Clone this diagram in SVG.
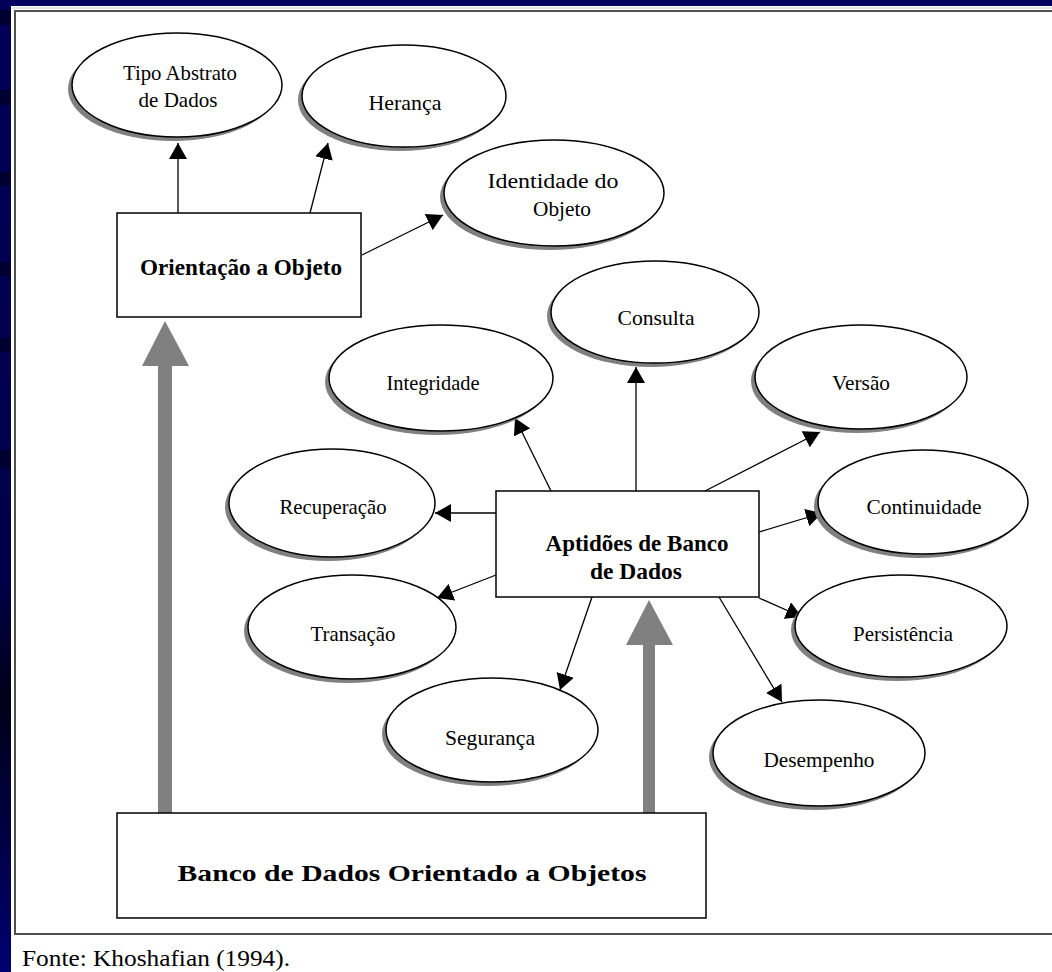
<svg xmlns="http://www.w3.org/2000/svg" width="1052" height="972" viewBox="0 0 1052 972">
  <style>
    .bubble { fill: #ffffff; stroke: #000000; stroke-width: 1.5; }
    .shade { fill: #808080; }
    .box { fill: #ffffff; stroke: #000000; stroke-width: 1.5; }
    .lbl { font-family: "Liberation Serif", "Times New Roman", serif; font-size: 21px; fill: #000000; text-anchor: middle; }
    .head { font-family: "Liberation Serif", "Times New Roman", serif; font-size: 23px; font-weight: bold; fill: #000000; text-anchor: middle; }
    .link { stroke: #000000; stroke-width: 1.3; fill: none; marker-end: url(#tip); }
    .big { fill: #808080; }
  </style>
  <defs>
    <marker id="tip" viewBox="0 0 16 18" refX="16" refY="9" markerWidth="16" markerHeight="18" markerUnits="userSpaceOnUse" orient="auto">
      <path d="M0,0 L16,9 L0,18 z" fill="#000000"/>
    </marker>
    <linearGradient id="side" x1="0" y1="0" x2="0" y2="1">
      <stop offset="0" stop-color="#000058"/>
      <stop offset="0.6" stop-color="#000048"/>
      <stop offset="0.72" stop-color="#000018"/>
      <stop offset="1" stop-color="#000070"/>
    </linearGradient>
  </defs>

  <!-- page -->
  <rect x="0" y="0" width="1052" height="972" fill="#ffffff"/>
  <rect x="0" y="0" width="1052" height="6" fill="#000060"/>
  <rect x="0" y="0" width="11" height="972" fill="url(#side)"/>
  <g fill="#000030">
    <rect x="0" y="10" width="11" height="15"/>
    <rect x="0" y="90" width="11" height="15"/>
    <rect x="0" y="172" width="11" height="14"/>
    <rect x="0" y="262" width="11" height="14"/>
    <rect x="0" y="338" width="11" height="14"/>
    <rect x="0" y="450" width="11" height="18"/>
  </g>

  <!-- frame -->
  <line x1="12" y1="8" x2="1052" y2="8" stroke="#c8c8c8" stroke-width="1"/>
  <path d="M1052,11 H15 V934 H1052" fill="none" stroke="#505050" stroke-width="2"/>

  <!-- connectors -->
  <g id="connectors">
    <line class="link" x1="178" y1="213" x2="178" y2="143"/>
    <line class="link" x1="310" y1="213" x2="328" y2="143"/>
    <line class="link" x1="362" y1="255" x2="443" y2="215"/>
    <line class="link" x1="551" y1="491" x2="515" y2="418"/>
    <line class="link" x1="636" y1="491" x2="636" y2="367"/>
    <line class="link" x1="705" y1="491" x2="820" y2="432"/>
    <line class="link" x1="496" y1="513" x2="435" y2="513"/>
    <line class="link" x1="759" y1="532" x2="822" y2="513"/>
    <line class="link" x1="496" y1="575" x2="437" y2="598"/>
    <line class="link" x1="759" y1="598" x2="802" y2="617"/>
    <line class="link" x1="592" y1="597" x2="560" y2="690"/>
    <line class="link" x1="719" y1="597" x2="782" y2="702"/>
    <polygon class="big" points="158,813 158,366 142,366 165,321 189,366 172,366 172,813"/>
    <polygon class="big" points="643,813 643,645 626,645 649,600 673,645 655,645 655,813"/>
  </g>

  <!-- nodes -->
  <g id="tipo-abstrato">
    <ellipse class="shade" cx="173" cy="89" rx="105" ry="52"/>
    <ellipse class="bubble" cx="177" cy="85" rx="105" ry="52"/>
    <text class="lbl" x="180" y="80" textLength="114" lengthAdjust="spacingAndGlyphs">Tipo Abstrato</text>
    <text class="lbl" x="178" y="107" textLength="79" lengthAdjust="spacingAndGlyphs">de Dados</text>
  </g>
  <g id="heranca">
    <ellipse class="shade" cx="400" cy="100" rx="102" ry="51"/>
    <ellipse class="bubble" cx="404" cy="96" rx="102" ry="51"/>
    <text class="lbl" x="405" y="110" textLength="73" lengthAdjust="spacingAndGlyphs">Herança</text>
  </g>
  <g id="identidade">
    <ellipse class="shade" cx="550" cy="197" rx="110" ry="53"/>
    <ellipse class="bubble" cx="554" cy="193" rx="110" ry="53"/>
    <text class="lbl" x="553" y="188" textLength="131" lengthAdjust="spacingAndGlyphs">Identidade do</text>
    <text class="lbl" x="562" y="216" textLength="58" lengthAdjust="spacingAndGlyphs">Objeto</text>
  </g>
  <g id="orientacao">
    <rect class="box" x="117" y="213" width="244" height="104"/>
    <text class="head" x="241" y="275" textLength="202" lengthAdjust="spacingAndGlyphs">Orientação a Objeto</text>
  </g>
  <g id="consulta">
    <ellipse class="shade" cx="651" cy="316" rx="104" ry="51"/>
    <ellipse class="bubble" cx="655" cy="312" rx="104" ry="51"/>
    <text class="lbl" x="656" y="325" textLength="77" lengthAdjust="spacingAndGlyphs">Consulta</text>
  </g>
  <g id="integridade">
    <ellipse class="shade" cx="437" cy="382" rx="112" ry="53"/>
    <ellipse class="bubble" cx="441" cy="378" rx="112" ry="53"/>
    <text class="lbl" x="433" y="390" textLength="93" lengthAdjust="spacingAndGlyphs">Integridade</text>
  </g>
  <g id="versao">
    <ellipse class="shade" cx="857" cy="381" rx="106" ry="52"/>
    <ellipse class="bubble" cx="861" cy="377" rx="106" ry="52"/>
    <text class="lbl" x="861" y="390" textLength="58" lengthAdjust="spacingAndGlyphs">Versão</text>
  </g>
  <g id="recuperacao">
    <ellipse class="shade" cx="328" cy="507" rx="103" ry="54"/>
    <ellipse class="bubble" cx="332" cy="503" rx="103" ry="54"/>
    <text class="lbl" x="333" y="514" textLength="107" lengthAdjust="spacingAndGlyphs">Recuperação</text>
  </g>
  <g id="continuidade">
    <ellipse class="shade" cx="919" cy="506" rx="105" ry="52"/>
    <ellipse class="bubble" cx="923" cy="502" rx="105" ry="52"/>
    <text class="lbl" x="924" y="514" textLength="115" lengthAdjust="spacingAndGlyphs">Continuidade</text>
  </g>
  <g id="aptidoes">
    <rect class="box" x="496" y="491" width="263" height="106"/>
    <text class="head" x="637" y="551" textLength="183" lengthAdjust="spacingAndGlyphs">Aptidões de Banco</text>
    <text class="head" x="636" y="579" textLength="92" lengthAdjust="spacingAndGlyphs">de Dados</text>
  </g>
  <g id="transacao">
    <ellipse class="shade" cx="348" cy="631" rx="104" ry="52"/>
    <ellipse class="bubble" cx="352" cy="627" rx="104" ry="52"/>
    <text class="lbl" x="353" y="641" textLength="85" lengthAdjust="spacingAndGlyphs">Transação</text>
  </g>
  <g id="persistencia">
    <ellipse class="shade" cx="897" cy="630" rx="106" ry="51"/>
    <ellipse class="bubble" cx="901" cy="626" rx="106" ry="51"/>
    <text class="lbl" x="903" y="641" textLength="100" lengthAdjust="spacingAndGlyphs">Persistência</text>
  </g>
  <g id="seguranca">
    <ellipse class="shade" cx="488" cy="734" rx="106" ry="52"/>
    <ellipse class="bubble" cx="492" cy="730" rx="106" ry="52"/>
    <text class="lbl" x="490" y="745" textLength="90" lengthAdjust="spacingAndGlyphs">Segurança</text>
  </g>
  <g id="desempenho">
    <ellipse class="shade" cx="815" cy="757" rx="106" ry="53"/>
    <ellipse class="bubble" cx="819" cy="753" rx="106" ry="53"/>
    <text class="lbl" x="819" y="767" textLength="111" lengthAdjust="spacingAndGlyphs">Desempenho</text>
  </g>
  <g id="banco-oo">
    <rect class="box" x="117" y="813" width="589" height="105"/>
    <text class="head" x="412" y="881" font-size="28" textLength="469" lengthAdjust="spacingAndGlyphs">Banco de Dados Orientado a Objetos</text>
  </g>

  <!-- source line -->
  <text x="22" y="966" font-family="Liberation Serif, Times New Roman, serif" font-size="24" fill="#000000" textLength="268" lengthAdjust="spacingAndGlyphs">Fonte: Khoshafian (1994).</text>
</svg>
